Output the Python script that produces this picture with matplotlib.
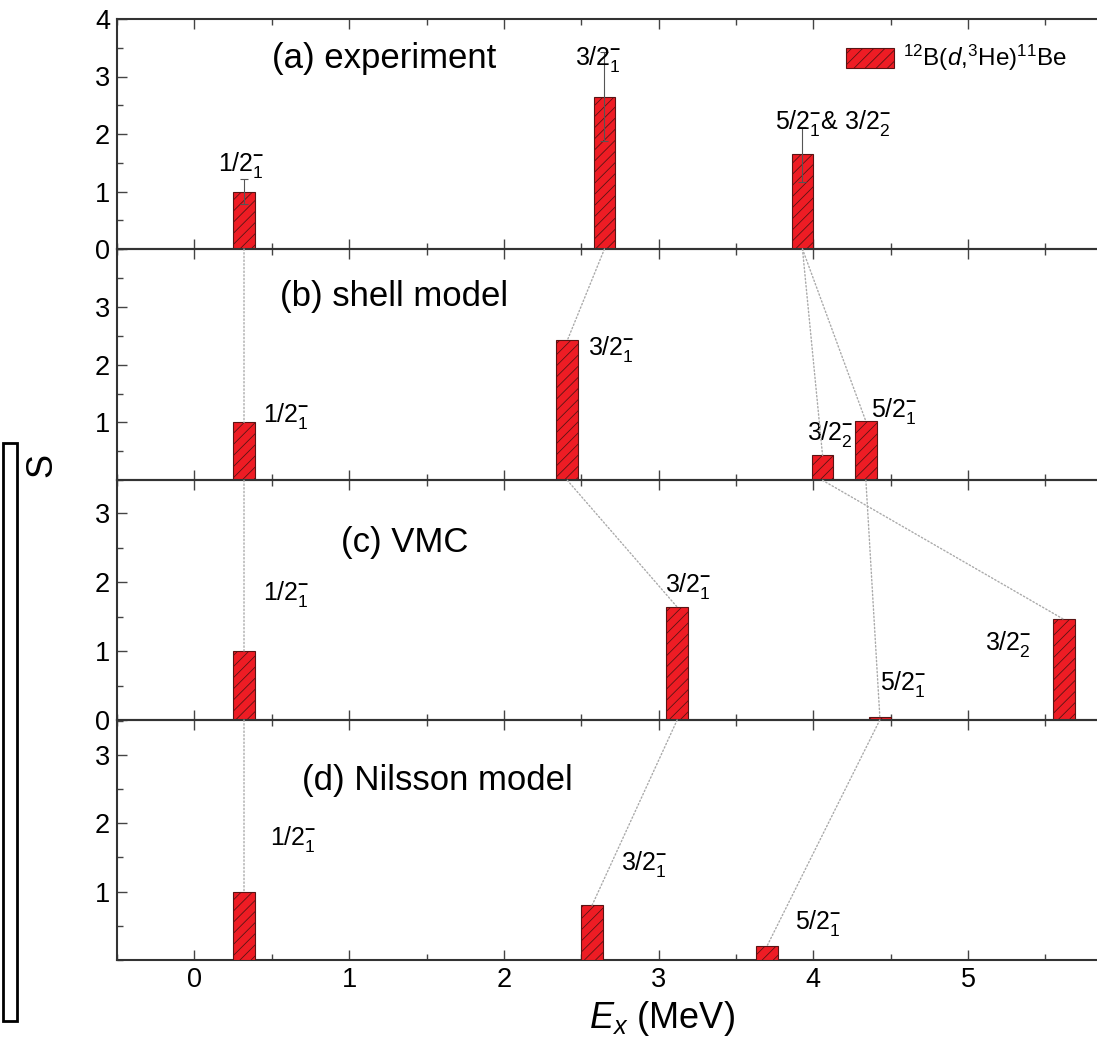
import matplotlib
matplotlib.use("Agg")
import matplotlib.pyplot as plt
from matplotlib.patches import ConnectionPatch, Rectangle
from matplotlib.ticker import MultipleLocator

plt.rcParams['font.family'] = ['Liberation Sans', 'DejaVu Sans']
plt.rcParams['mathtext.fontset'] = 'custom'
plt.rcParams['mathtext.rm'] = 'Liberation Sans'
plt.rcParams['mathtext.it'] = 'Liberation Sans:italic'
plt.rcParams['mathtext.bf'] = 'Liberation Sans:bold'
plt.rcParams['hatch.linewidth'] = 0.6

# spectroscopic factors, Ex in MeV
exp_ex = [0.32, 2.65, 3.93]
exp_s = [1.0, 2.65, 1.65]
exp_err = [0.21, 0.78, 0.48]
exp_lab = [r"1/2$^{\mathbf{-}}_{1}$", r"3/2$^{\mathbf{-}}_{1}$",
           r"5/2$^{\mathbf{-}}_{1}$& 3/2$^{\mathbf{-}}_{2}$"]

sm_ex = [0.32, 2.41, 4.06, 4.34]
sm_s = [1.0, 2.42, 0.43, 1.02]
sm_lab = [r"1/2$^{\mathbf{-}}_{1}$", r"3/2$^{\mathbf{-}}_{1}$",
          r"3/2$^{\mathbf{-}}_{2}$", r"5/2$^{\mathbf{-}}_{1}$"]

vmc_ex = [0.32, 3.12, 4.43, 5.62]
vmc_s = [1.0, 1.64, 0.05, 1.46]
vmc_lab = [r"1/2$^{\mathbf{-}}_{1}$", r"3/2$^{\mathbf{-}}_{1}$",
           r"5/2$^{\mathbf{-}}_{1}$", r"3/2$^{\mathbf{-}}_{2}$"]

nil_ex = [0.32, 2.57, 3.70]
nil_s = [1.0, 0.8, 0.2]
nil_lab = [r"1/2$^{\mathbf{-}}_{1}$", r"3/2$^{\mathbf{-}}_{1}$", r"5/2$^{\mathbf{-}}_{1}$"]

# label anchors (Ex, S) of the state names
exp_lpos = [(0.15, 1.35), (2.46, 3.2), (3.75, 2.08)]
sm_lpos = [(0.445, 1.0), (2.545, 2.17), (3.96, 0.70), (4.37, 1.10)]
vmc_lpos = [(0.443, 1.74), (3.04, 1.86), (4.43, 0.435), (5.11, 1.02)]
nil_lpos = [(0.488, 1.68), (2.76, 1.32), (3.88, 0.46)]

titles = ["(a) experiment", "(b) shell model", "(c) VMC", "(d) Nilsson model"]
title_pos = [(0.50, 3.14), (0.553, 3.01), (0.95, 2.44), (0.693, 2.49)]
ylims = [(0, 4), (0, 4), (0, 3.48), (0, 3.51)]
ytick_sets = [[0, 1, 2, 3, 4], [1, 2, 3], [0, 1, 2, 3], [1, 2, 3]]

W, H = 1097, 1050
fig = plt.figure(figsize=(W / 100, H / 100), dpi=100)

# panel edges in pixels from the top
edges = [(19, 249), (249, 480.3), (480.3, 720), (720, 960)]
x0 = 117.15 / W
axes = []
for top, bot in edges:
    ax = fig.add_axes([x0, 1 - bot / H, 1.0 - x0, (bot - top) / H])
    axes.append(ax)

bar_kw = dict(width=0.14, color='#ee1c24', edgecolor='#5a1414', linewidth=0.8,
              hatch='///', zorder=3)

panels = [
    (exp_ex, exp_s, exp_lab, exp_lpos),
    (sm_ex, sm_s, sm_lab, sm_lpos),
    (vmc_ex, vmc_s, vmc_lab, vmc_lpos),
    (nil_ex, nil_s, nil_lab, nil_lpos),
]

for i, ax in enumerate(axes):
    ex, s, lab, lpos = panels[i]
    bars = ax.bar(ex, s, **bar_kw)
    if i == 0:
        ax.errorbar(exp_ex, exp_s, yerr=exp_err, fmt='none', ecolor='#555555',
                    elinewidth=0.8, capsize=3, capthick=0.8, zorder=4)
        bars.set_label(r"$^{12}$B($\mathit{d}$,$^{3}$He)$^{11}$Be")
    for txt, (lx, ly) in zip(lab, lpos):
        ax.text(lx, ly, txt, fontsize=18, ha='left', va='baseline', zorder=5)
    tx, ty = title_pos[i]
    ax.text(tx, ty, titles[i], fontsize=25, ha='left', va='baseline')

    ax.set_xlim(-0.5, 5.834)
    ax.set_ylim(*ylims[i])
    ax.set_yticks(ytick_sets[i])
    ax.yaxis.set_minor_locator(MultipleLocator(0.5))
    ax.xaxis.set_major_locator(MultipleLocator(1))
    ax.xaxis.set_minor_locator(MultipleLocator(0.5))
    ax.tick_params(which='both', direction='in', top=True, right=False,
                   color='#444444', labelsize=19.5, pad=5)
    ax.tick_params(which='major', length=7, width=1)
    ax.tick_params(which='minor', length=4, width=1)
    if i < 3:
        ax.tick_params(labelbottom=False)
    for side in ['left', 'top', 'bottom']:
        ax.spines[side].set_color('#333333')
        ax.spines[side].set_linewidth(1.5)
    ax.spines['right'].set_visible(False)
    ax.patch.set_alpha(0)

axes[0].legend(loc='upper left', bbox_to_anchor=(0.722, 0.99), frameon=False,
               fontsize=17.5, handlelength=1.95, handleheight=0.9, handletextpad=0.37)

# dotted guides joining the same state from one panel to the next
links = [
    (0, 0.32, 1, 0.32, 1.0),
    (0, 2.65, 1, 2.41, 2.42),
    (0, 3.93, 1, 4.06, 0.43),
    (0, 3.93, 1, 4.34, 1.02),
    (1, 0.32, 2, 0.32, 1.0),
    (1, 2.41, 2, 3.12, 1.64),
    (1, 4.06, 2, 5.62, 1.46),
    (1, 4.34, 2, 4.43, 0.05),
    (2, 0.32, 3, 0.32, 1.0),
    (2, 3.12, 3, 2.57, 0.8),
    (2, 4.43, 3, 3.70, 0.2),
]
for ia, xa, ib, xb, yb in links:
    con = ConnectionPatch(xyA=(xa, 0), coordsA=axes[ia].transData,
                          xyB=(xb, yb), coordsB=axes[ib].transData,
                          color='#aaaaaa', linestyle=':', linewidth=1.0, zorder=1)
    fig.add_artist(con)

fig.text(0.038, 1 - 465 / H, "S", fontsize=26, rotation=90, ha='center', va='center')
fig.text(662 / W, 1 - 1028 / H, r"$E_{x}$ (MeV)", fontsize=26, ha='center', va='baseline')

fig.add_artist(Rectangle((3 / W, 1 - 1021 / H), 14 / W, 578 / H,
                         transform=fig.transFigure, fill=False, lw=2, ec='black'))

fig.savefig("out.png", dpi=100)
